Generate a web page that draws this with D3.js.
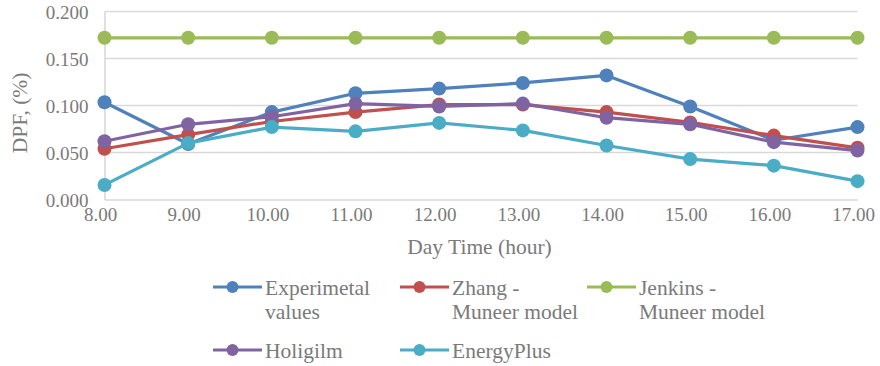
<!DOCTYPE html>
<html>
<head>
<meta charset="utf-8">
<script src="https://cdn.jsdelivr.net/npm/d3@7"></script>
<style>
  html, body { margin: 0; padding: 0; background: #fff; }
  svg { display: block; }
  svg text { font-family: 'Liberation Serif'; }
</style>
</head>
<body>
<svg id="chart" width="880" height="366"></svg>
<script>
// Hours of the day (x axis)
const hours = [8, 9, 10, 11, 12, 13, 14, 15, 16, 17];

// Daylight factor series, one array per method
const experimental = [0.1035, 0.059, 0.093, 0.113, 0.118, 0.124, 0.132, 0.099, 0.063, 0.077];
const zhangMuneer  = [0.054, 0.069, 0.083, 0.093, 0.101, 0.101, 0.093, 0.082, 0.068, 0.055];
const jenkinsMuneer = [0.172, 0.172, 0.172, 0.172, 0.172, 0.172, 0.172, 0.172, 0.172, 0.172];
const holigilm     = [0.062, 0.080, 0.088, 0.102, 0.099, 0.102, 0.087, 0.080, 0.061, 0.052];
const energyPlus   = [0.0155, 0.060, 0.077, 0.0725, 0.0815, 0.0735, 0.0575, 0.043, 0.036, 0.0195];

const seriesNames = [["Experimetal", "values"], ["Zhang -", "Muneer model"], ["Jenkins -", "Muneer model"], ["Holigilm"], ["EnergyPlus"]];
const seriesColors = ["#4f81bd", "#c0504d", "#9bbb59", "#8064a2", "#4bacc6"];
const yTicks = [0, 0.05, 0.10, 0.15, 0.20];

const series = [experimental, zhangMuneer, jenkinsMuneer, holigilm, energyPlus].map((values, i) => ({
  name: seriesNames[i], color: seriesColors[i], values
}));

const FONT = "Liberation Serif";
const svg = d3.select("#chart").attr("font-family", FONT);
const textColor = "#7a7a7a";
const gridColor = "#d9d9d9";

const x = d3.scaleLinear().domain([8, 17]).range([104.5, 857.5]);
const y = d3.scaleLinear().domain([0, 0.2]).range([199.5, 11.5]);

// Horizontal gridlines
svg.append("g")
  .selectAll("line")
  .data(yTicks.filter(d => d > 0))
  .join("line")
  .attr("x1", x(8)).attr("x2", x(17))
  .attr("y1", d => y(d)).attr("y2", d => y(d))
  .attr("stroke", gridColor).attr("stroke-width", 1.3);

// Axes
const yAxis = svg.append("g")
  .attr("transform", `translate(${x(8)},0)`)
  .call(d3.axisLeft(y).tickValues(yTicks).tickFormat(d3.format(".3f")).tickSize(0).tickPadding(16));
const xAxis = svg.append("g")
  .attr("transform", `translate(0,${y(0)})`)
  .call(d3.axisBottom(x).tickValues(hours).tickFormat(d3.format(".2f")).tickSize(0).tickPadding(8));

[yAxis, xAxis].forEach(g => {
  g.attr("font-family", FONT).attr("font-size", 19);
  g.select(".domain").attr("stroke", gridColor).attr("stroke-width", 1.6);
  g.selectAll("text").attr("fill", textColor);
});
yAxis.selectAll("text").attr("dy", "0.38em");
xAxis.selectAll("text").attr("dx", -4.5);

// Axis titles
svg.append("text")
  .attr("transform", "translate(27,113) rotate(-90)")
  .attr("text-anchor", "middle")
  .attr("fill", textColor)
  .attr("font-size", 21.5)
  .text("DPF, (%)");

svg.append("text")
  .attr("x", 479.5).attr("y", 254)
  .attr("text-anchor", "middle")
  .attr("fill", textColor)
  .attr("font-size", 21.5)
  .text("Day Time (hour)");

// Series lines and markers
const line = d3.line().x((d, i) => x(hours[i])).y(d => y(d));
const plot = svg.append("g");
series.forEach(s => {
  const g = plot.append("g");
  g.append("path")
    .datum(s.values)
    .attr("d", line)
    .attr("fill", "none")
    .attr("stroke", s.color)
    .attr("stroke-width", 3.2)
    .attr("stroke-linejoin", "round");
  g.selectAll("circle")
    .data(s.values)
    .join("circle")
    .attr("cx", (d, i) => x(hours[i]))
    .attr("cy", d => y(d))
    .attr("r", 7)
    .attr("fill", s.color);
});

// Legend
const legendPos = [[213, 287], [400, 287], [587, 287], [213, 350], [400, 350]];
const legend = svg.append("g");
series.forEach((s, i) => {
  const [lx, ly] = legendPos[i];
  const g = legend.append("g").attr("transform", `translate(${lx},${ly})`);
  g.append("line").attr("x1", 0).attr("x2", 49).attr("y1", 0).attr("y2", 0)
    .attr("stroke", s.color).attr("stroke-width", 3.2);
  g.append("circle").attr("cx", 19.5).attr("cy", 0).attr("r", 6).attr("fill", s.color);
  const t = g.append("text").attr("x", 52).attr("y", 8)
    .attr("fill", textColor).attr("font-size", 21.5);
  s.name.forEach((ln, k) => {
    t.append("tspan").attr("x", 52).attr("dy", k === 0 ? 0 : 24).text(ln);
  });
});
</script>
</body>
</html>
